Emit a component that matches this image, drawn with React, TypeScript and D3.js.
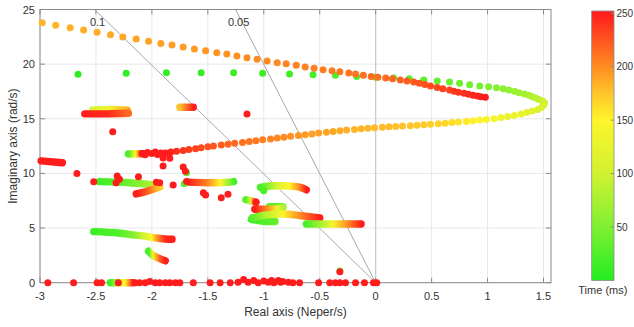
import React from "react";
import * as d3 from "d3";

const W = 634;
const H = 327;
const FONT = "'Liberation Sans', Arial, Helvetica, sans-serif";

// plot box in px and axis limits
const box = { left: 40, right: 551, top: 9.5, bottom: 282.7 };
const xLim = [-3, 1.567];
const yLim = [0, 25];
const xTicks = [-3, -2.5, -2, -1.5, -1, -0.5, 0, 0.5, 1, 1.5];
const yTicks = [0, 5, 10, 15, 20, 25];
const cbTicks = [50, 100, 150, 200, 250];
const cbMax = 252;
const zetas = [0.1, 0.05];

// colormap time (ms) -> colour
const cmapT = [0, 50, 100, 150, 175, 200, 250];
const cmapC = ["#22ee22", "#80f032", "#d0f230", "#fff52a", "#ffc52a", "#ff8c22", "#ff1c1c"];

// [real, imag, time]
// sparse green branch of the big loop
const greenBranch = [
  [-2.66, 19.07, 5], [-2.23, 19.16, 7], [-1.87, 19.21, 9], [-1.56, 19.21, 11], [-1.27, 19.21, 13],
  [-1.01, 19.16, 15], [-0.77, 19.09, 17], [-0.56, 19.03, 19], [-0.36, 18.98, 21], [-0.17, 18.88, 23],
  [0.0, 18.79, 25], [0.16, 18.73, 27], [0.3, 18.66, 29], [0.43, 18.55, 31], [0.55, 18.45, 33],
  [0.66, 18.36, 36], [0.75, 18.24, 39], [0.84, 18.12, 42], [0.93, 18.0, 45], [1.01, 17.93, 49],
  [1.08, 17.84, 53], [1.14, 17.75, 57], [1.19, 17.63, 61], [1.24, 17.51, 65], [1.28, 17.38, 69],
  [1.33, 17.26, 73], [1.37, 17.15, 77], [1.4, 17.02, 81], [1.43, 16.9, 85], [1.46, 16.76, 89],
  [1.49, 16.62, 93], [1.5, 16.49, 97],
];

// lower branch of the loop, from the tip back to the left
const lowerBranch = [
  [1.51, 16.44, 100], [1.5, 16.23, 104], [1.48, 16.03, 108], [1.45, 15.86, 112], [1.4, 15.71, 116],
  [1.35, 15.57, 120], [1.3, 15.43, 124], [1.24, 15.31, 128], [1.18, 15.21, 132], [1.12, 15.11, 136],
  [1.06, 15.01, 140], [0.99, 14.94, 144], [0.93, 14.88, 148], [0.87, 14.81, 152], [0.81, 14.76, 156],
  [0.74, 14.7, 160], [0.68, 14.65, 163], [0.62, 14.59, 166], [0.56, 14.55, 168], [0.49, 14.5, 170],
  [0.43, 14.46, 172], [0.37, 14.41, 174], [0.31, 14.37, 175], [0.24, 14.33, 176], [0.18, 14.3, 177],
  [0.12, 14.26, 178], [0.06, 14.22, 179], [-0.01, 14.18, 180], [-0.07, 14.13, 181], [-0.13, 14.09, 182],
  [-0.19, 14.03, 183], [-0.26, 13.97, 185], [-0.32, 13.91, 186], [-0.38, 13.83, 188], [-0.44, 13.76, 189],
  [-0.51, 13.69, 191], [-0.57, 13.61, 192], [-0.63, 13.54, 194], [-0.69, 13.47, 196], [-0.76, 13.39, 198],
  [-0.82, 13.32, 200], [-0.88, 13.24, 202], [-0.94, 13.16, 204], [-1.01, 13.08, 206], [-1.07, 13.0, 208],
  [-1.13, 12.91, 210], [-1.19, 12.83, 212], [-1.26, 12.75, 215], [-1.32, 12.67, 218], [-1.38, 12.59, 221],
  [-1.45, 12.51, 224], [-1.5, 12.43, 227], [-1.56, 12.34, 230], [-1.61, 12.26, 233], [-1.67, 12.18, 236],
  [-1.72, 12.1, 239], [-1.78, 12.03, 242], [-1.83, 11.96, 245], [-1.88, 11.88, 248],
];

// upper (orange -> red) branch
const upperBranch = [
  [-2.98, 23.79, 182], [-2.86, 23.55, 183], [-2.73, 23.33, 184], [-2.61, 23.12, 185], [-2.49, 22.91, 186],
  [-2.37, 22.69, 187], [-2.26, 22.48, 188], [-2.14, 22.3, 189], [-2.03, 22.09, 190], [-1.92, 21.9, 191],
  [-1.82, 21.75, 192], [-1.72, 21.56, 193], [-1.62, 21.38, 194], [-1.52, 21.23, 195], [-1.42, 21.04, 196],
  [-1.33, 20.92, 197], [-1.24, 20.74, 198], [-1.15, 20.59, 199], [-1.06, 20.44, 200], [-0.97, 20.29, 201],
  [-0.88, 20.13, 202], [-0.8, 20.04, 203], [-0.71, 19.89, 204], [-0.63, 19.74, 205], [-0.55, 19.62, 206],
  [-0.47, 19.49, 207], [-0.39, 19.4, 208], [-0.32, 19.3, 209], [-0.24, 19.19, 210], [-0.18, 19.09, 211],
  [-0.11, 18.98, 212], [-0.04, 18.88, 213], [0.02, 18.79, 214], [0.09, 18.73, 215], [0.15, 18.66, 217],
  [0.22, 18.55, 219], [0.28, 18.45, 221], [0.34, 18.36, 223], [0.39, 18.24, 225], [0.44, 18.13, 227],
  [0.49, 18.0, 229], [0.55, 17.86, 231], [0.6, 17.75, 233], [0.66, 17.63, 235], [0.7, 17.52, 237],
  [0.74, 17.42, 239], [0.79, 17.33, 241], [0.83, 17.24, 243], [0.87, 17.15, 245], [0.91, 17.08, 247],
  [0.94, 17.02, 249], [0.98, 16.96, 250],
];

// slow poles: dense tracks, knots read along each streak
const streaks = [
  [[-2.99, 11.15, 250], [-2.8, 10.98, 250]],
  [[-2.53, 15.78, 110], [-2.38, 15.85, 135], [-2.22, 15.78, 185]],
  [[-2.21, 15.5, 215], [-2.4, 15.45, 245], [-2.6, 15.45, 250]],
  [[-1.75, 16.05, 175], [-1.63, 16.05, 250]],
  [[-2.21, 11.78, 20], [-2.15, 11.8, 150], [-2.08, 11.8, 250]],
  [[-2.47, 9.25, 15], [-2.2, 9.15, 40], [-2.0, 8.98, 80], [-1.95, 8.95, 110]],
  [[-2.14, 8.12, 250], [-2.05, 8.35, 225], [-1.93, 8.75, 170]],
  [[-2.52, 4.67, 15], [-2.3, 4.55, 25], [-2.17, 4.38, 50], [-2.08, 4.28, 100], [-2.0, 4.15, 145], [-1.95, 4.08, 200], [-1.88, 4.0, 245], [-1.82, 3.97, 250]],
  [[-2.03, 2.88, 20], [-1.99, 2.5, 140], [-1.93, 2.2, 220], [-1.88, 2.0, 250]],
  [[-1.68, 9.2, 250], [-1.51, 9.15, 205], [-1.39, 9.15, 150], [-1.3, 9.2, 50], [-1.27, 9.25, 20]],
  [[-1.03, 8.72, 20], [-0.95, 8.85, 60], [-0.88, 8.87, 110], [-0.77, 8.85, 150], [-0.68, 8.75, 205], [-0.62, 8.5, 250]],
  [[-1.16, 7.6, 30], [-1.12, 7.5, 120], [-1.07, 7.35, 250]],
  [[-0.95, 6.95, 30], [-0.83, 6.95, 40]],
  [[-1.08, 6.72, 250], [-0.97, 6.72, 200], [-0.88, 6.75, 140], [-0.83, 6.85, 80]],
  [[-1.11, 5.8, 15], [-1.0, 5.62, 25], [-0.9, 5.6, 35]],
  [[-1.1, 5.95, 30], [-0.97, 6.2, 90], [-0.83, 6.28, 145], [-0.68, 6.15, 200], [-0.5, 5.92, 250]],
  [[-0.62, 5.37, 20], [-0.5, 5.37, 70], [-0.38, 5.37, 140], [-0.25, 5.37, 200], [-0.13, 5.37, 250]],
  [[-2.37, 0, 15], [-2.3, 0, 100], [-2.24, 0, 150], [-2.17, 0, 250]],
];

// isolated poles
const looseDots = [
  [-2.35, 13.82, 250], [-1.15, 15.43, 250], [-2.67, 10.0, 250], [-2.52, 9.24, 250],
  [-2.31, 9.76, 250], [-2.29, 9.46, 250], [-2.32, 9.15, 250], [-2.12, 9.7, 250],
  [-1.93, 9.15, 250], [-1.96, 9.2, 250], [-1.81, 8.94, 250], [-1.54, 8.23, 250],
  [-1.52, 8.03, 250], [-1.38, 7.78, 250], [-1.32, 8.1, 250], [-1.72, 10.58, 250],
  [-1.69, 10.05, 30], [-1.7, 10.2, 250], [-1.71, 9.05, 30], [-1.69, 9.25, 250],
  [-1.9, 10.68, 250], [-1.9, 11.41, 250], [-1.84, 11.38, 250],
  [-2.09, 11.82, 250], [-2.04, 11.91, 250], [-2.0, 11.82, 250], [-1.95, 11.73, 250],
  [-1.92, 11.87, 250], [-1.85, 11.84, 250], [-1.97, 11.95, 250], [-2.06, 11.7, 250],
  [-1.07, 7.38, 250], [-1.0, 8.42, 20], [-0.32, 1.08, 40], [-0.32, 1.0, 250],
];

// real poles on the axis
const realPoles = [
  [-2.93, 0, 250], [-2.7, 0, 250], [-2.49, 0, 250], [-2.45, 0, 250], [-2.3, 0, 250],
  [-2.15, 0, 250], [-2.11, 0, 250], [-2.06, 0, 250], [-2.02, 0.1, 250], [-1.97, 0, 250],
  [-1.93, 0, 250], [-1.88, 0, 250], [-1.84, 0, 250], [-1.79, 0, 250], [-1.75, 0, 250],
  [-1.63, 0, 250], [-1.48, 0, 250], [-1.39, 0, 250], [-1.3, 0, 250], [-1.23, 0.05, 250],
  [-1.18, 0.3, 250], [-1.14, 0.05, 250], [-1.09, 0.2, 250], [-1.05, 0, 250], [-1.0, 0.15, 250],
  [-0.96, 0.05, 250], [-0.93, 0.2, 250], [-0.91, 0, 250], [-0.87, 0.2, 250], [-0.85, 0.05, 250],
  [-0.83, 0.1, 250], [-0.78, 0.05, 250], [-0.74, 0, 250], [-0.68, 0, 250], [-0.51, 0, 250],
  [-0.41, 0, 250], [-0.36, 0, 250], [-0.32, 0, 250], [-0.27, 0, 250], [-0.18, 0, 250],
  [-0.1, 0, 250], [-0.02, 0, 250], [0.01, 0, 250],
];

export default function App() {
  const x = d3.scaleLinear().domain(xLim).range([box.left, box.right]);
  const y = d3.scaleLinear().domain(yLim).range([box.bottom, box.top]);
  const color = d3.scaleLinear<string>().domain(cmapT).range(cmapC).clamp(true);
  const cb = d3.scaleLinear().domain([0, cbMax]).range([280.5, 11]);
  const line = d3.line<number[]>().x(d => x(d[0])).y(d => y(d[1])).curve(d3.curveCatmullRom);
  const r = 3.5;

  const dot = (d: number[], i: number) => (
    <circle key={i} cx={x(d[0])} cy={y(d[1])} r={r} fill={color(d[2])} />
  );

  const streakDefs = streaks.map((s, i) => {
    const xs = s.map(k => x(k[0]));
    const x0 = Math.min(...xs), x1 = Math.max(...xs);
    const stops = s
      .map(k => ({ off: x1 > x0 ? (x(k[0]) - x0) / (x1 - x0) : 0, c: color(k[2]) }))
      .sort((a, b) => a.off - b.off);
    return (
      <linearGradient key={i} id={"st" + i} gradientUnits="userSpaceOnUse" x1={x0} y1={0} x2={Math.max(x1, x0 + 1)} y2={0}>
        {stops.map((st, j) => <stop key={j} offset={st.off} stopColor={st.c} />)}
      </linearGradient>
    );
  });

  const cbStops = d3.range(0, cbMax + 1, 6);
  const cbX = 591.7, cbW = 22.3;

  return (
    <svg width={W} height={H} style={{ position: "absolute", left: 0, top: 0, background: "#fff" }} fontFamily={FONT}>
      <defs>
        {streakDefs}
        <linearGradient id="cbar" x1={0} y1={1} x2={0} y2={0}>
          {cbStops.map(t => <stop key={t} offset={t / cbMax} stopColor={color(t)} />)}
        </linearGradient>
      </defs>

      {/* grid */}
      <g stroke="#e8e8e8" strokeWidth={1}>
        {xTicks.map(t => <line key={t} x1={x(t)} x2={x(t)} y1={box.top} y2={box.bottom} />)}
        {yTicks.map(t => <line key={t} x1={box.left} x2={box.right} y1={y(t)} y2={y(t)} />)}
      </g>
      <line x1={x(0)} x2={x(0)} y1={y(0)} y2={y(25)} stroke="#c9c9c9" strokeWidth={1.2} />

      {/* damping lines */}
      {zetas.map(z => {
        const xt = (-25 * z) / Math.sqrt(1 - z * z);
        return (
          <g key={z}>
            <line x1={x(0)} y1={y(0)} x2={x(xt)} y2={y(25)} stroke="#a8a8a8" strokeWidth={1} />
            <text x={x(xt) + 3} y={y(25) + 16} fontSize={11} fill="#333" textAnchor="middle">{z}</text>
          </g>
        );
      })}

      {/* axes box and ticks */}
      <rect x={box.left} y={box.top} width={box.right - box.left} height={box.bottom - box.top} fill="none" stroke="#8a8a8a" strokeWidth={1} />
      <g stroke="#8a8a8a" strokeWidth={1}>
        {xTicks.map(t => (
          <g key={t}>
            <line x1={x(t)} x2={x(t)} y1={box.bottom} y2={box.bottom - 5} />
            <line x1={x(t)} x2={x(t)} y1={box.top} y2={box.top + 5} />
          </g>
        ))}
        {yTicks.map(t => (
          <g key={t}>
            <line x1={box.left} x2={box.left + 5} y1={y(t)} y2={y(t)} />
            <line x1={box.right} x2={box.right - 5} y1={y(t)} y2={y(t)} />
          </g>
        ))}
      </g>
      <g fontSize={11} fill="#333">
        {xTicks.map(t => (
          <text key={t} x={x(t)} y={300} textAnchor="middle">{String(t)}</text>
        ))}
        {yTicks.map(t => (
          <text key={t} x={35} y={y(t) + 4} textAnchor="end">{t}</text>
        ))}
      </g>
      <text x={(box.left + box.right) / 2} y={316} fontSize={12} fill="#333" textAnchor="middle">Real axis (Neper/s)</text>
      <text transform={`translate(17,${(box.top + box.bottom) / 2}) rotate(-90)`} fontSize={12} fill="#333" textAnchor="middle">Imaginary axis (rad/s)</text>

      {/* poles */}
      <g>{greenBranch.map(dot)}</g>
      <g>{lowerBranch.map(dot)}</g>
      <g>{upperBranch.map(dot)}</g>
      <g fill="none" strokeLinecap="round" strokeLinejoin="round" strokeWidth={7.4}>
        {streaks.map((s, i) => <path key={i} d={line(s) || ""} stroke={`url(#st${i})`} />)}
      </g>
      <g>{looseDots.map(dot)}</g>
      <g>{realPoles.map(dot)}</g>

      {/* colorbar */}
      <rect x={cbX} y={cb(cbMax)} width={cbW} height={cb(0) - cb(cbMax)} fill="url(#cbar)" stroke="#8a8a8a" strokeWidth={0.8} />
      <g stroke="#8a8a8a">
        {cbTicks.map(t => <line key={t} x1={cbX + cbW} x2={cbX + cbW - 3} y1={cb(t)} y2={cb(t)} />)}
      </g>
      <g fontSize={10} fill="#333">
        {cbTicks.map(t => <text key={t} x={cbX + cbW + 2.5} y={cb(t) + 3.5}>{t}</text>)}
      </g>
      <text x={cbX + cbW / 2} y={294} fontSize={11} fill="#333" textAnchor="middle">Time (ms)</text>
    </svg>
  );
}
